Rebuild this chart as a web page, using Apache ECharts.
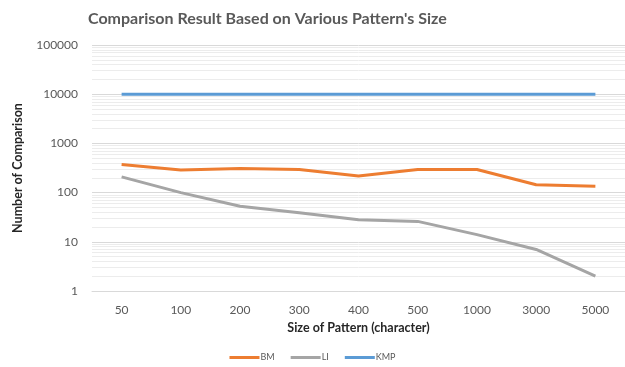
<!DOCTYPE html>
<html>
<head>
<meta charset="utf-8">
<script src="https://cdn.jsdelivr.net/npm/echarts@6/dist/echarts.min.js"></script>
<style>
  html, body { margin: 0; padding: 0; background: #fff; }
  #chart { width: 625px; height: 367px; }
</style>
</head>
<body>
<div id="chart"></div>
<script>
const patternSizes = ['50', '100', '200', '300', '400', '500', '1000', '3000', '5000']
const bmValues  = [372, 289, 310, 295, 218, 295, 295, 144, 135]
const liValues  = [209, 100, 53, 39, 28, 26, 14, 7, 2]
const kmpValues = [10000, 10000, 10000, 10000, 10000, 10000, 10000, 10000, 10000]

// excel-style minor gridlines at 2..9 of every decade
const minorLines = []
for (let d = 1; d < 100000; d *= 10) {
  for (let k = 2; k <= 9; k++) minorLines.push({ yAxis: d * k })
}

const FONT = 'Lato, "Open Sans", sans-serif'
const chart = echarts.init(document.getElementById('chart'))

const lineSeries = (name, data, color) => ({
  name, type: 'line', data,
  symbol: 'none',
  lineStyle: { width: 3, color },
  itemStyle: { color },
  z: 3,
})

chart.setOption({
  animation: false,
  title: {
    text: "Comparison Result Based on Various Pattern's Size",
    left: 83, top: 6,
    textStyle: { fontFamily: FONT, fontSize: 16, fontWeight: 'bold', color: '#595959' },
  },
  legend: {
    bottom: 0, left: 'center',
    itemWidth: 30, itemHeight: 3, itemGap: 16,
    icon: 'rect',
    textStyle: { fontFamily: FONT, fontSize: 9, color: '#595959', padding: [0, 0, 0, -4] },
    data: ['BM', 'LI', 'KMP'],
  },
  grid: { left: 92, right: 0, top: 45, bottom: 76 },
  xAxis: {
    type: 'category',
    data: patternSizes,
    name: 'Size of Pattern (character)',
    nameLocation: 'middle', nameGap: 30,
    nameTextStyle: { fontFamily: FONT, fontSize: 12.5, fontWeight: 'bold', color: '#262626' },
    axisLine: { lineStyle: { color: '#d9d9d9' } },
    axisTick: { show: false },
    axisLabel: { fontFamily: FONT, fontSize: 12, color: '#595959', margin: 13 },
  },
  yAxis: {
    type: 'log',
    logBase: 10,
    min: 1, max: 100000,
    name: 'Number of Comparison',
    nameLocation: 'middle', nameGap: 68,
    nameTextStyle: { fontFamily: FONT, fontSize: 12.5, fontWeight: 'bold', color: '#262626' },
    axisLine: { show: false },
    axisTick: { show: false },
    axisLabel: { fontFamily: FONT, fontSize: 12, color: '#595959', margin: 14, formatter: v => String(Math.round(v)) },
    splitLine: { lineStyle: { color: '#d9d9d9', width: 1 } },
  },
  series: [
    lineSeries('BM', bmValues, '#ED7D31'),
    lineSeries('LI', liValues, '#A5A5A5'),
    lineSeries('KMP', kmpValues, '#5B9BD5'),
    {
      type: 'line', data: [], silent: true, z: 1,
      markLine: {
        silent: true, symbol: 'none', label: { show: false }, z: 1,
        lineStyle: { color: '#ececec', type: 'solid', width: 1 },
        emphasis: { disabled: true },
        data: minorLines,
      },
    },
  ],
})
</script>
</body>
</html>
